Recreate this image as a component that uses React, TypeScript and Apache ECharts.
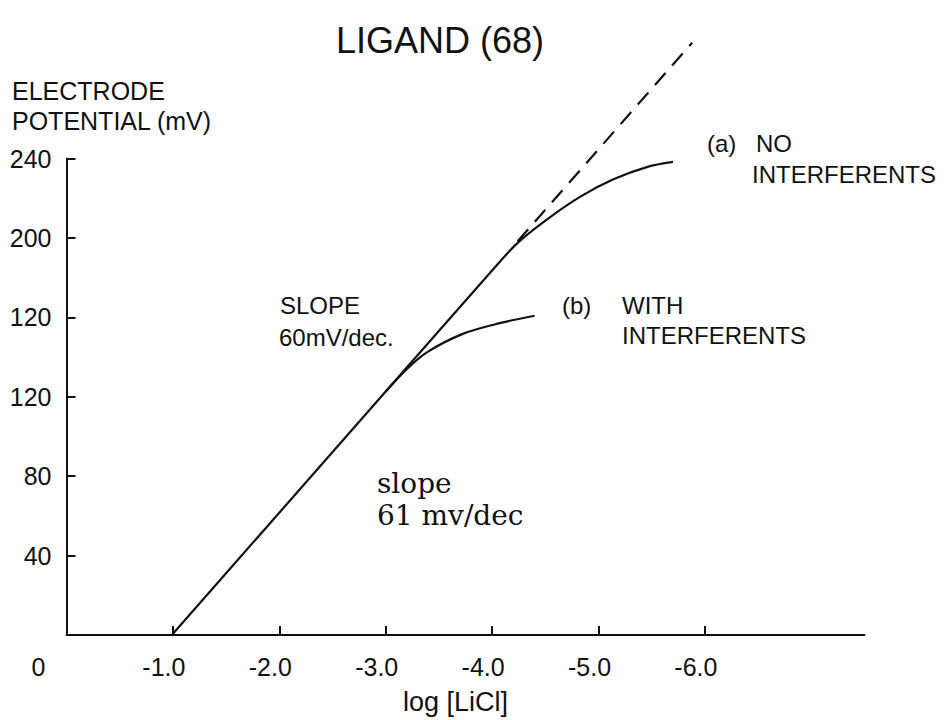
import React, { useEffect, useRef } from "react";
import * as echarts from "echarts";

// ---- data (x = -log[LiCl], y = electrode potential in mV) ----
const chartTitle = "LIGAND (68)";
const yAxisTitleLines = ["ELECTRODE", "POTENTIAL (mV)"];
const xAxisTitle = "log [LiCl]";

const xTickValues = [0, 1, 2, 3, 4, 5, 6];
const xTickLabels = ["0", "-1.0", "-2.0", "-3.0", "-4.0", "-5.0", "-6.0"];
const yTickValues = [40, 80, 120, 160, 200, 240];
const yTickLabels = ["40", "80", "120", "120", "200", "240"];

const curveNoInterferents = [
  [0.99, 0], [3.0, 122.6], [4.0, 183.6], [4.24, 197.5],
  [4.52, 209.5], [4.83, 220.8], [5.14, 229.5], [5.46, 235.8], [5.7, 238.3],
];
const curveWithInterferents = [
  [3.0, 122.6], [3.2, 134], [3.39, 142.5], [3.73, 151.8], [4.05, 156.8], [4.4, 160.8],
];
const extrapolation = [[4.24, 198.3], [5.88, 298.3]];

const labelA = ["(a)", "NO", "INTERFERENTS"];
const labelB = ["(b)", "WITH", "INTERFERENTS"];
const slopeUpper = ["SLOPE", "60mV/dec."];
const slopeLower = ["slope", "61 mv/dec"];

const SANS = "'Liberation Sans', Arial, sans-serif";
const SERIF = "'DejaVu Serif', 'Liberation Serif', serif";
const INK = "#111111";

function txt(text: string, x: number, y: number, size: number, family = SANS, align = "left") {
  return {
    type: "text",
    x,
    y,
    silent: true,
    style: {
      text,
      fontSize: size,
      fontFamily: family,
      fill: INK,
      align,
      verticalAlign: "middle",
    },
  };
}

export default function App() {
  const ref = useRef<HTMLDivElement>(null);

  useEffect(() => {
    if (!ref.current) return;
    const chart = echarts.init(ref.current, undefined, { renderer: "svg" });
    const lineStyle = { color: INK, width: 2.2 };
    chart.setOption({
      animation: false,
      backgroundColor: "#ffffff",
      grid: { left: 66.5, right: 83.5, top: 158.5, bottom: 81.5 },
      xAxis: {
        type: "value",
        min: 0,
        max: 7.5,
        axisLine: { show: true, onZero: false, lineStyle: { color: INK, width: 2 } },
        axisTick: {
          show: true,
          inside: true,
          length: 9,
          customValues: xTickValues.slice(1),
          lineStyle: { color: INK, width: 2 },
        },
        axisLabel: {
          customValues: xTickValues,
          margin: 19,
          color: INK,
          fontSize: 25,
          fontFamily: SANS,
          formatter: (v: number) => {
            const i = xTickValues.indexOf(v);
            if (i < 0) return "";
            return v === 0 ? `{z|${xTickLabels[i]}}` : `{n|${xTickLabels[i]}}`;
          },
          rich: {
            z: { padding: [0, 56, 0, 0], fontSize: 25, fontFamily: SANS, color: INK },
            n: { padding: [0, 18, 0, 0], fontSize: 25, fontFamily: SANS, color: INK },
          },
        },
        splitLine: { show: false },
        name: xAxisTitle,
        nameLocation: "middle",
        nameGap: 53,
        nameTextStyle: { color: INK, fontSize: 27, fontFamily: SANS, padding: [0, 20, 0, 0] },
      },
      yAxis: {
        type: "value",
        min: 0,
        max: 240,
        interval: 40,
        axisLine: { show: true, onZero: false, lineStyle: { color: INK, width: 2 } },
        axisTick: { show: true, inside: true, length: 9, lineStyle: { color: INK, width: 2 } },
        axisLabel: {
          margin: 15,
          color: INK,
          fontSize: 25,
          fontFamily: SANS,
          formatter: (v: number) => {
            const i = yTickValues.indexOf(v);
            return i < 0 ? "" : yTickLabels[i];
          },
        },
        splitLine: { show: false },
      },
      series: [
        {
          type: "line",
          data: curveNoInterferents,
          symbol: "none",
          smooth: 0.3,
          clip: false,
          silent: true,
          lineStyle,
        },
        {
          type: "line",
          data: curveWithInterferents,
          symbol: "none",
          smooth: 0.3,
          clip: false,
          silent: true,
          lineStyle,
        },
        {
          type: "line",
          data: extrapolation,
          symbol: "none",
          clip: false,
          silent: true,
          lineStyle: { color: INK, width: 2.2, type: [16, 10] },
        },
      ],
      graphic: [
        txt(chartTitle, 440, 40, 36, SANS, "center"),
        txt(yAxisTitleLines[0], 12, 91, 25),
        txt(yAxisTitleLines[1], 12, 121, 25),
        txt(slopeUpper[0], 280, 305, 24),
        txt(slopeUpper[1], 279, 337, 24),
        txt(slopeLower[0], 377, 483, 28, SERIF),
        txt(slopeLower[1], 377, 515, 28, SERIF),
        txt(labelB[0], 562, 305, 24),
        txt(labelB[1], 622, 305, 24),
        txt(labelB[2], 622, 335, 24),
        txt(labelA[0], 707, 143, 24),
        txt(labelA[1], 756, 143, 24),
        txt(labelA[2], 752, 174, 24),
      ],
    });
    return () => chart.dispose();
  }, []);

  return (
    <div
      ref={ref}
      style={{ position: "fixed", left: 0, top: 0, width: 948, height: 720, background: "#fff" }}
    />
  );
}
